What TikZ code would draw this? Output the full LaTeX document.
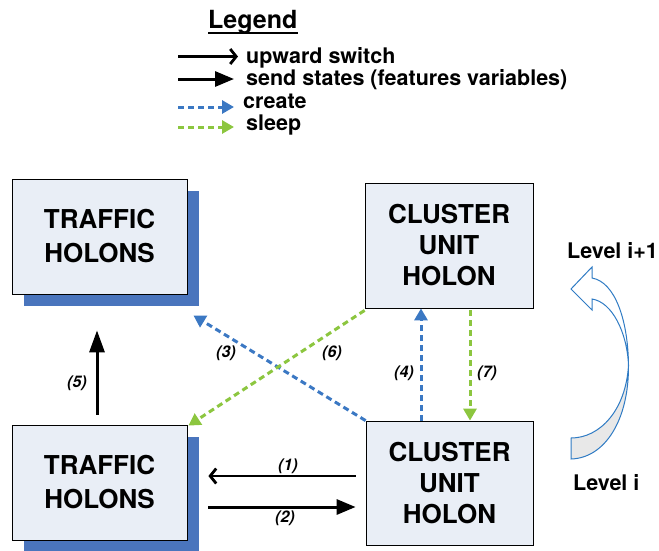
\documentclass[tikz,border=0pt]{standalone}
\usepackage{fontspec}
\setmainfont{TeX Gyre Heros}
\usetikzlibrary{arrows.meta,shadows}
\definecolor{boxfill}{HTML}{E9EEF6}
\definecolor{shadowblue}{HTML}{4A75BD}
\definecolor{dashblue}{HTML}{3B78C3}
\definecolor{dashgreen}{HTML}{8CC63F}
\definecolor{curveblue}{HTML}{2F7BC4}
\definecolor{curvegray}{HTML}{E8E8E8}
\begin{document}
\begin{tikzpicture}[x=1pt,y=-1pt,
  holon/.style={draw=black, line width=0.8pt, fill=boxfill, align=center, inner sep=0pt},
  shadowed/.style={general shadow={fill=shadowblue, shadow xshift=12pt, shadow yshift=-12pt}},
  trafficfont/.style={font=\bfseries\fontsize{26}{34}\selectfont},
  clusterfont/.style={font=\bfseries\fontsize{26}{31}\selectfont},
  upsw/.style={line width=2.8pt, -{Straight Barb[length=6pt,width=15pt]}},
  sendst/.style={line width=3pt, -{Triangle[length=19pt,width=15pt]}},
  createarr/.style={dashblue, line width=3pt, dash pattern=on 6pt off 4pt, -{Triangle[length=12pt,width=13pt]}},
  sleeparr/.style={dashgreen, line width=3pt, dash pattern=on 6pt off 4pt, -{Triangle[length=12pt,width=13pt]}},
  numlabel/.style={font=\bfseries\itshape\fontsize{16}{19}\selectfont, inner sep=0pt},
  legendtext/.style={font=\bfseries\fontsize{21.5}{25}\selectfont, anchor=base west, inner sep=0pt},
]
\useasboundingbox (0,0) rectangle (659,550);

% Legend
\node[font=\bfseries\fontsize{25}{30}\selectfont, anchor=base west, inner sep=0pt] (lgtitle) at (208,28) {Legend};
\draw[line width=2pt] ([yshift=-5pt]lgtitle.base west) -- ([yshift=-5pt]lgtitle.base east);
\coordinate (lg1s) at (178,56.5);
\coordinate (lg1e) at (238,56.5);
\coordinate (lg2s) at (178,79);
\coordinate (lg2e) at (234,79);
\coordinate (lg3s) at (178,107);
\coordinate (lg3e) at (234,107);
\coordinate (lg4s) at (178,127);
\coordinate (lg4e) at (234,127);
\draw[upsw] (lg1s) -- (lg1e);
\draw[sendst] (lg2s) -- (lg2e);
\draw[createarr] (lg3s) -- (lg3e);
\draw[sleeparr] (lg4s) -- (lg4e);
\node[legendtext] (lgt1) at (246,63) {upward switch};
\node[legendtext] (lgt2) at (246,85) {send states (features variables)};
\node[legendtext] (lgt3) at (243,108) {create};
\node[legendtext] (lgt4) at (246,130) {sleep};

% Holons
\node[holon, shadowed, trafficfont, minimum width=175pt, minimum height=115pt] (tl) at (99.5,236.5) {TRAFFIC\\HOLONS};
\node[holon, shadowed, trafficfont, minimum width=175pt, minimum height=115pt] (bl) at (99.5,482.5) {TRAFFIC\\HOLONS};
\node[holon, clusterfont, minimum width=168pt, minimum height=125pt] (tc) at (449,245.5) {CLUSTER\\UNIT\\HOLON};
\node[holon, clusterfont, minimum width=167pt, minimum height=124pt] (bc) at (449.5,483) {CLUSTER\\UNIT\\HOLON};

% Connectors
\draw[upsw] ([xshift=-10pt,yshift=7pt]bc.west) -- ([xshift=21pt,yshift=6.5pt]bl.east);
\draw[sendst] ([xshift=21pt,yshift=-24.5pt]bl.east) -- ([xshift=-10pt,yshift=-24pt]bc.west);
\draw[sendst, -{Triangle[length=22pt,width=15pt]}] ([xshift=-2.5pt,yshift=10pt]bl.north) -- ([xshift=-2.5pt,yshift=-36pt]tl.south);
\draw[createarr] (bc.north west) -- ([xshift=6pt,yshift=-21pt]tl.south east);
\draw[sleeparr] ([yshift=-2pt]tc.south west) -- ([xshift=1pt,yshift=-1pt]bl.north east);
\draw[createarr] ([xshift=-28.5pt]bc.north) -- ([xshift=-28pt]tc.south);
\draw[sleeparr] ([xshift=21pt,yshift=-2pt]tc.south) -- ([xshift=20.5pt]bc.north);

% Labels
\node[numlabel] (n1) at (288,466) {(1)};
\node[numlabel] (n2) at (285,518) {(2)};
\node[numlabel] (n3) at (226,353) {(3)};
\node[numlabel] (n4) at (404,373) {(4)};
\node[numlabel] (n5) at (77,383) {(5)};
\node[numlabel] (n6) at (332,353) {(6)};
\node[numlabel] (n7) at (487,373) {(7)};

% Levels
\node[legendtext] (lvup) at (567,258) {Level i+1};
\node[legendtext] (lvdn) at (573,490) {Level i};

% Curved block arrow
\filldraw[draw=curveblue, fill=curvegray, line width=1pt]
  (628.5,365) .. controls (629,420) and (605,458) .. (571,459)
  -- (571,438) .. controls (600,438) and (626,410) .. (628.5,365) -- cycle;
\filldraw[draw=curveblue, fill=white, line width=1pt, line join=miter]
  (592,299) -- (592,310) -- (571,289) -- (592,267) -- (592,278)
  .. controls (615,282) and (628,320) .. (628.5,365)
  .. controls (627,332) and (612,302) .. (592,299) -- cycle;
\end{tikzpicture}
\end{document}
